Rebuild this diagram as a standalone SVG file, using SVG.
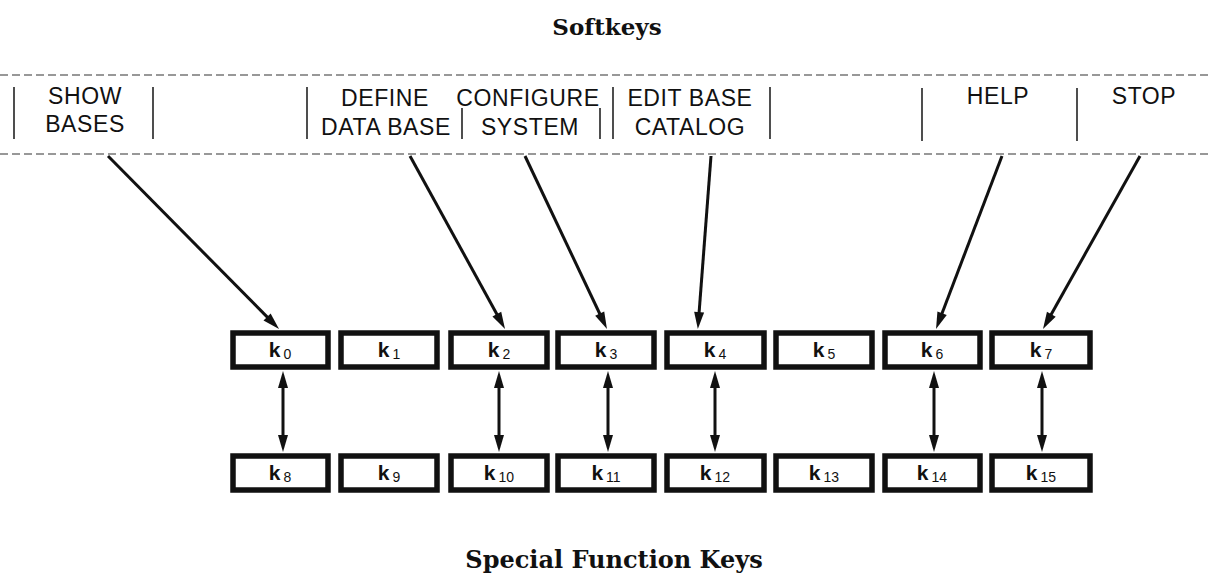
<svg xmlns="http://www.w3.org/2000/svg" width="1211" height="578" viewBox="0 0 1211 578">
  <style>
    .title { font-family: "DejaVu Serif", "Liberation Serif", serif; font-weight: bold; fill: #111; text-anchor: middle; }
    .soft { font-family: "Liberation Sans", Arial, sans-serif; font-size: 23px; letter-spacing: 0.6px; fill: #111; text-anchor: middle; }
    .band { stroke: #333; stroke-width: 1.2; stroke-dasharray: 8 4; fill: none; }
    .sep { stroke: #222; stroke-width: 1.6; fill: none; }
    .key { fill: #fff; stroke: #111; stroke-width: 5.5; }
    .klabel { font-family: "Liberation Sans", Arial, sans-serif; font-size: 21px; font-weight: bold; fill: #111; text-anchor: middle; }
    .ksub { font-size: 14px; font-weight: normal; }
    .arrow { stroke: #111; stroke-width: 3; fill: none; }
  </style>
  <defs>
    <marker id="head" markerUnits="userSpaceOnUse" markerWidth="17" markerHeight="10" refX="7" refY="5" orient="auto-start-reverse" overflow="visible">
      <path d="M0,0 L17,5 L0,10 z" fill="#111"/>
    </marker>
  </defs>

  <rect width="1211" height="578" fill="#fff"/>

  <text class="title" x="607" y="35" font-size="23">Softkeys</text>
  <text class="title" x="614" y="568" font-size="24">Special Function Keys</text>

  <!-- softkey label strip -->
  <g id="softkey-strip">
    <line class="band" x1="0" y1="75" x2="1211" y2="75"/>
    <line class="band" x1="0" y1="154" x2="1211" y2="154"/>
    <line class="sep" x1="14" y1="87" x2="14" y2="139"/>
    <line class="sep" x1="153" y1="87" x2="153" y2="139"/>
    <line class="sep" x1="307" y1="87" x2="307" y2="139"/>
    <line class="sep" x1="462" y1="108" x2="462" y2="139"/>
    <line class="sep" x1="600" y1="108" x2="600" y2="139"/>
    <line class="sep" x1="613" y1="87" x2="613" y2="139"/>
    <line class="sep" x1="770" y1="87" x2="770" y2="139"/>
    <line class="sep" x1="922" y1="88" x2="922" y2="141"/>
    <line class="sep" x1="1077" y1="88" x2="1077" y2="141"/>
  </g>

  <g id="sk-show-bases">
    <text class="soft" x="85" y="104">SHOW</text>
    <text class="soft" x="85" y="132">BASES</text>
  </g>
  <g id="sk-define-data-base">
    <text class="soft" x="385" y="106">DEFINE</text>
    <text class="soft" x="386" y="135">DATA BASE</text>
  </g>
  <g id="sk-configure-system">
    <text class="soft" x="528" y="106">CONFIGURE</text>
    <text class="soft" x="530" y="135">SYSTEM</text>
  </g>
  <g id="sk-edit-base-catalog">
    <text class="soft" x="690" y="106">EDIT BASE</text>
    <text class="soft" x="690" y="135">CATALOG</text>
  </g>
  <g id="sk-help">
    <text class="soft" x="998" y="104">HELP</text>
  </g>
  <g id="sk-stop">
    <text class="soft" x="1144" y="104">STOP</text>
  </g>

  <!-- upper key row k0..k7 -->
  <g id="k0"><rect class="key" x="233" y="333" width="95" height="34"/><text class="klabel" x="280" y="357">k<tspan class="ksub" dx="3" dy="2">0</tspan></text></g>
  <g id="k1"><rect class="key" x="341" y="333" width="96" height="34"/><text class="klabel" x="389" y="357">k<tspan class="ksub" dx="3" dy="2">1</tspan></text></g>
  <g id="k2"><rect class="key" x="451" y="333" width="96" height="34"/><text class="klabel" x="499" y="357">k<tspan class="ksub" dx="3" dy="2">2</tspan></text></g>
  <g id="k3"><rect class="key" x="558" y="333" width="96" height="34"/><text class="klabel" x="606" y="357">k<tspan class="ksub" dx="3" dy="2">3</tspan></text></g>
  <g id="k4"><rect class="key" x="667" y="333" width="97" height="34"/><text class="klabel" x="715" y="357">k<tspan class="ksub" dx="3" dy="2">4</tspan></text></g>
  <g id="k5"><rect class="key" x="776" y="333" width="96" height="34"/><text class="klabel" x="824" y="357">k<tspan class="ksub" dx="3" dy="2">5</tspan></text></g>
  <g id="k6"><rect class="key" x="885" y="333" width="95" height="34"/><text class="klabel" x="932" y="357">k<tspan class="ksub" dx="3" dy="2">6</tspan></text></g>
  <g id="k7"><rect class="key" x="992" y="333" width="98" height="34"/><text class="klabel" x="1041" y="357">k<tspan class="ksub" dx="3" dy="2">7</tspan></text></g>

  <!-- lower key row k8..k15 -->
  <g id="k8"><rect class="key" x="233" y="456" width="95" height="34"/><text class="klabel" x="280" y="480">k<tspan class="ksub" dx="3" dy="2">8</tspan></text></g>
  <g id="k9"><rect class="key" x="341" y="456" width="96" height="34"/><text class="klabel" x="389" y="480">k<tspan class="ksub" dx="3" dy="2">9</tspan></text></g>
  <g id="k10"><rect class="key" x="451" y="456" width="96" height="34"/><text class="klabel" x="499" y="480">k<tspan class="ksub" dx="3" dy="2">10</tspan></text></g>
  <g id="k11"><rect class="key" x="558" y="456" width="96" height="34"/><text class="klabel" x="606" y="480">k<tspan class="ksub" dx="3" dy="2">11</tspan></text></g>
  <g id="k12"><rect class="key" x="667" y="456" width="97" height="34"/><text class="klabel" x="715" y="480">k<tspan class="ksub" dx="3" dy="2">12</tspan></text></g>
  <g id="k13"><rect class="key" x="776" y="456" width="96" height="34"/><text class="klabel" x="824" y="480">k<tspan class="ksub" dx="3" dy="2">13</tspan></text></g>
  <g id="k14"><rect class="key" x="885" y="456" width="95" height="34"/><text class="klabel" x="932" y="480">k<tspan class="ksub" dx="3" dy="2">14</tspan></text></g>
  <g id="k15"><rect class="key" x="992" y="456" width="98" height="34"/><text class="klabel" x="1041" y="480">k<tspan class="ksub" dx="3" dy="2">15</tspan></text></g>

  <!-- connectors: line ends sit 10px short of the tip, the marker carries the point forward -->
  <g id="connectors">
    <line class="arrow" x1="108" y1="156" x2="272.0" y2="321.9" marker-end="url(#head)"/>
    <line class="arrow" x1="410" y1="156" x2="500.2" y2="320.2" marker-end="url(#head)"/>
    <line class="arrow" x1="525" y1="156" x2="602.7" y2="320.0" marker-end="url(#head)"/>
    <line class="arrow" x1="711" y1="156" x2="698.6" y2="319.1" marker-end="url(#head)"/>
    <line class="arrow" x1="1002" y1="156" x2="939.6" y2="319.7" marker-end="url(#head)"/>
    <line class="arrow" x1="1140" y1="156" x2="1047.9" y2="320.3" marker-end="url(#head)"/>

    <line class="arrow" x1="283" y1="381" x2="283" y2="442" marker-start="url(#head)" marker-end="url(#head)"/>
    <line class="arrow" x1="499" y1="381" x2="499" y2="442" marker-start="url(#head)" marker-end="url(#head)"/>
    <line class="arrow" x1="608" y1="381" x2="608" y2="442" marker-start="url(#head)" marker-end="url(#head)"/>
    <line class="arrow" x1="715" y1="381" x2="715" y2="442" marker-start="url(#head)" marker-end="url(#head)"/>
    <line class="arrow" x1="934" y1="381" x2="934" y2="442" marker-start="url(#head)" marker-end="url(#head)"/>
    <line class="arrow" x1="1042" y1="381" x2="1042" y2="442" marker-start="url(#head)" marker-end="url(#head)"/>
  </g>
</svg>
